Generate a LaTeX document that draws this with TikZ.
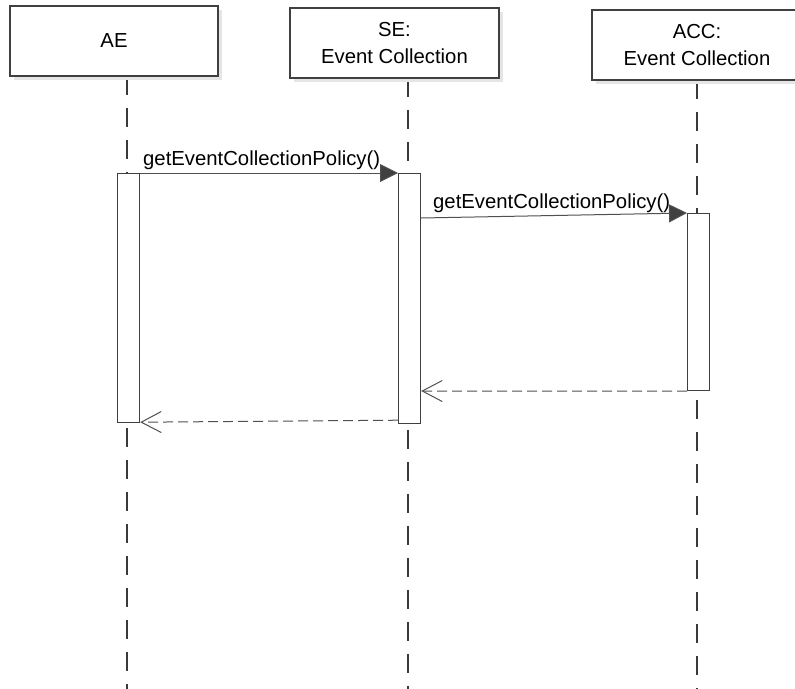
\documentclass[tikz,border=0pt]{standalone}
\usepackage{fontspec}
\setmainfont{Liberation Sans}
\usetikzlibrary{arrows.meta,shadows,calc}
\definecolor{edge}{HTML}{404040}
\definecolor{lline}{HTML}{3A3A3A}
\definecolor{msg}{HTML}{505050}
\tikzset{
  headbox/.style={draw=edge, line width=1.2pt, fill=white, minimum height=70pt, align=center, inner sep=0pt,
    font=\fontsize{20.3}{27.5}\selectfont,
    drop shadow={shadow xshift=4pt, shadow yshift=-4pt, fill=black!10, opacity=1}},
  lifeline/.style={draw=lline, line width=2.4pt, dash pattern=on 19pt off 13pt},
  actbar/.style={draw=edge, line width=1.2pt, fill=white, minimum width=22pt, inner sep=0pt, anchor=north west},
  callmsg/.style={draw=msg, line width=1pt, -{Triangle[length=18pt,width=18pt,fill=edge]}},
  retmsg/.style={draw=msg, line width=1pt, dash pattern=on 10pt off 5pt, -{Straight Barb[length=20pt,width=21pt,line width=1pt]}},
  msglabel/.style={font=\fontsize{20.3}{24}\selectfont, inner sep=0pt, anchor=base west}
}
\begin{document}
\begin{tikzpicture}[x=1pt,y=-1pt]
\clip (0,0) rectangle (795,688);
\fill[white] (0,0) rectangle (795,688);
% lifelines
\coordinate (aetop) at (127,76);
\coordinate (aebot) at (127,690);
\coordinate (setop) at (408,78);
\coordinate (sebot) at (408,690);
\coordinate (acctop) at (697,80);
\coordinate (accbot) at (697,690);
\draw[lifeline] (aetop) -- (aebot);
\draw[lifeline] (setop) -- (sebot);
\draw[lifeline] (acctop) -- (accbot);
% header boxes
\node[headbox, minimum width=208pt] (ae) at (114,41) {AE};
\node[headbox, minimum width=209pt] (se) at (394.5,43) {SE:\\Event Collection};
\node[headbox, minimum width=210pt] (acc) at (697,45) {ACC:\\Event Collection};
% activation bars
\node[actbar, minimum height=249pt] (aebar) at (117,173) {};
\node[actbar, minimum height=250pt] (sebar) at (398,173) {};
\node[actbar, minimum height=177pt] (accbar) at (687,213) {};
% messages
\draw[callmsg] (aebar.north east) -- (sebar.north west);
\node[msglabel] (lbl1) at (143,165) {getEventCollectionPolicy()};
\coordinate (m2start) at ($(sebar.north east)+(0,45)$);
\draw[callmsg] (m2start) -- (accbar.north west);
\node[msglabel] (lbl2) at (433,208) {getEventCollectionPolicy()};
\coordinate (r1end) at ($(sebar.north east)+(0,218)$);
\draw[retmsg] (accbar.south west) -- (r1end);
\coordinate (r2start) at ($(sebar.south west)+(0,-4)$);
\coordinate (r2end) at ($(aebar.south east)+(0,-1)$);
\draw[retmsg] (r2start) -- (r2end);
\end{tikzpicture}
\end{document}
